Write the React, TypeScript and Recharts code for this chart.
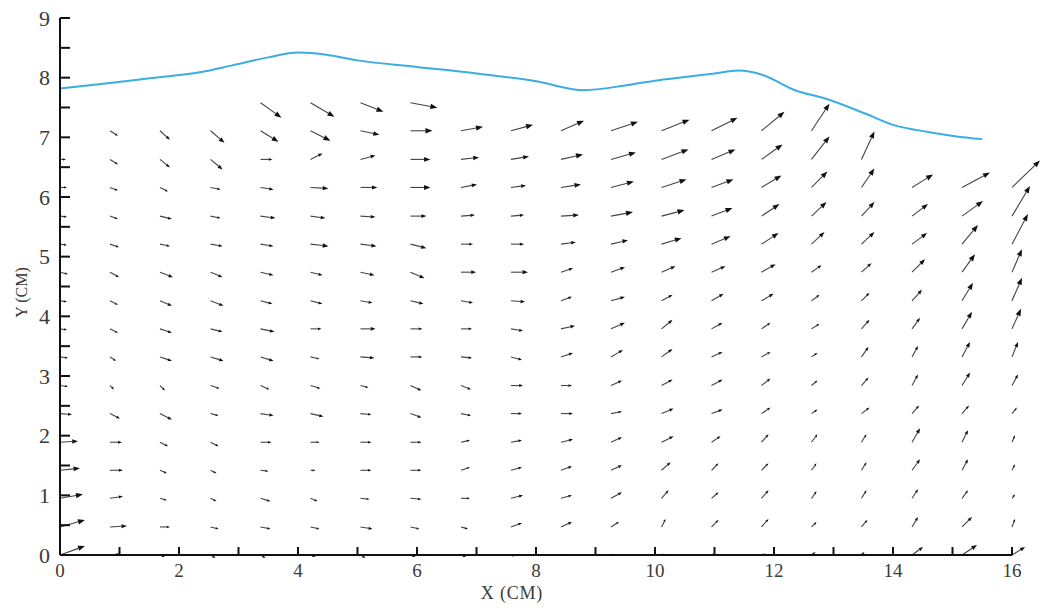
import { ComposedChart, Label, Line, ReferenceLine, XAxis, YAxis } from "recharts"

// grid of arrow tails (cm)
const X_GRID = [0, 0.84, 1.68, 2.53, 3.37, 4.21, 5.05, 5.89, 6.74, 7.58, 8.42, 9.26, 10.11, 10.95, 11.79, 12.63, 13.47, 14.32, 15.16, 16]
const Y_GRID = [0, 0.47, 0.95, 1.42, 1.89, 2.37, 2.84, 3.32, 3.79, 4.26, 4.74, 5.21, 5.68, 6.16, 6.63, 7.11, 7.58]

// velocity components per row (bottom row first), null = no vector
const U: (number | null)[][] = [
  [25, 10, 5, 5, 5, 5, 5, 5, 5, 4, 5, 4, 3, 4, 5, 4, 3, 11, 15, 13],
  [25, 17, 10, 8, 10, 9, 12, 9, 7, 11, 11, 8, 4, 7, 7, 5, 6, 6, 10, 3],
  [23, 13, 7, 6, 10, 7, 9, 11, 9, 12, 11, 11, 7, 7, 7, 5, 5, 6, 6, 3],
  [20, 13, 7, 6, 8, 5, 11, 11, 9, 11, 11, 11, 9, 7, 7, 5, 5, 8, 6, 3],
  [18, 12, 8, 8, 11, 9, 11, 11, 9, 11, 12, 11, 12, 9, 7, 6, 5, 8, 6, 3],
  [12, 10, 12, 8, 13, 13, 11, 11, 10, 11, 12, 11, 12, 11, 9, 6, 8, 7, 7, 5],
  [8, 4, 5, 9, 9, 10, 8, 11, 10, 12, 11, 11, 11, 11, 9, 6, 7, 6, 8, 6],
  [8, 6, 12, 13, 13, 9, 14, 12, 11, 11, 12, 12, 11, 11, 9, 6, 7, 6, 8, 6],
  [7, 8, 12, 12, 14, 11, 15, 12, 11, 12, 14, 14, 11, 11, 9, 8, 8, 8, 10, 9],
  [7, 8, 12, 13, 12, 12, 12, 13, 12, 14, 11, 14, 11, 12, 12, 8, 8, 10, 11, 10],
  [8, 9, 13, 12, 13, 12, 14, 14, 15, 17, 12, 14, 14, 14, 14, 10, 10, 13, 13, 10],
  [7, 9, 10, 12, 13, 18, 16, 16, 12, 13, 15, 17, 20, 19, 17, 13, 13, 15, 16, 16],
  [7, 8, 12, 10, 15, 15, 15, 16, 14, 13, 18, 22, 23, 21, 18, 15, 13, 16, 21, 18],
  [7, 8, 8, 10, 13, 18, 17, 20, 16, 15, 20, 23, 25, 22, 20, 16, 13, 21, 28, 28],
  [6, 8, 10, 12, 12, 12, 15, 20, 18, 18, 22, 25, 27, 24, 21, 18, 13, null, null, null],
  [null, 8, 10, 14, 18, 20, 19, 22, 22, 22, 23, 27, 28, 26, 23, 18, null, null, null, null],
  [null, null, null, null, 21, 24, 23, 27, null, null, null, null, null, null, null, null, null, null, null, null],
]
const V: (number | null)[][] = [
  [9, 1, -2, -3, -3, -2, -3, -2, -2, -1, 0, 0, 1, 1, 1, 3, 3, 8, 10, 8],
  [7, 1, 0, -2, -2, -2, -2, -2, -2, 4, 5, 5, 8, 7, 8, 5, 7, 10, 10, 8],
  [4, 2, -2, -3, -3, -3, -1, -1, 0, 3, 3, 6, 8, 6, 8, 7, 8, 9, 8, 4],
  [2, 0, -3, -3, -1, 0, 0, 0, 3, 3, 4, 5, 8, 7, 7, 7, 8, 11, 11, 6],
  [1, 0, -4, -4, 0, 0, 0, 0, 2, 2, 3, 5, 6, 6, 8, 8, 8, 14, 12, 7],
  [-1, -5, -6, -2, -2, -3, -1, -4, -2, 0, 0, 2, 5, 4, 6, 4, 6, 8, 8, 6],
  [-1, -4, -5, -3, -4, -3, -2, -5, -4, 0, 0, 5, 6, 6, 7, 5, 8, 11, 13, 11],
  [-1, -4, -4, -4, -4, -2, -1, 0, -1, -3, 4, 7, 8, 5, 5, 4, 10, 11, 15, 15],
  [-1, -4, -4, -3, -3, 0, 0, 0, 0, -2, 3, 6, 9, 6, 6, 5, 9, 11, 17, 20],
  [-1, -4, -5, -5, -3, -3, -2, -3, -2, -1, 4, 4, 6, 7, 7, 6, 8, 11, 18, 23],
  [-2, -5, -5, -5, -3, -3, -3, -6, 0, 0, 4, 5, 6, 6, 8, 7, 9, 13, 18, 23],
  [-1, -3, -2, -2, -2, -2, -2, -4, 0, 0, 2, 4, 6, 8, 11, 12, 12, 11, 19, 30],
  [-1, -3, -3, -2, -2, -2, -1, 0, 1, 1, 1, 4, 6, 8, 12, 14, 14, 12, 15, 30],
  [0, -3, -4, -2, -2, -1, 0, 0, 3, 2, 3, 6, 8, 8, 12, 16, 19, 13, 15, 27],
  [0, -5, -8, -10, 0, 6, 4, 0, 2, 3, 5, 7, 10, 10, 15, 23, 28, null, null, null],
  [null, -5, -9, -12, -11, -10, -4, 0, 4, 6, 10, 9, 11, 13, 19, 27, null, null, null, null],
  [null, null, null, null, -15, -14, -9, -5, null, null, null, null, null, null, null, null, null, null, null, null],
]
const VEL_SCALE = 1 / 59.6 // cm of arrow per velocity unit

// free surface
const SURFACE_X = [0, 0.84, 1.51, 2.35, 2.91, 3.5, 4.0, 4.5, 5.0, 6.0, 7.0, 8.0, 8.8, 9.5, 10.0, 10.5, 11.0, 11.4, 11.8, 12.35, 12.86, 13.53, 14.03, 14.59, 15.04, 15.5]
const SURFACE_Y = [7.82, 7.91, 7.99, 8.09, 8.21, 8.34, 8.42, 8.38, 8.29, 8.18, 8.07, 7.94, 7.79, 7.87, 7.95, 8.01, 8.07, 8.12, 8.05, 7.79, 7.65, 7.4, 7.2, 7.09, 7.02, 6.97]

const X_TICKS = [0, 1, 2, 3, 4, 5, 6, 7, 8, 9, 10, 11, 12, 13, 14, 15, 16]
const Y_TICKS = [0, 0.5, 1, 1.5, 2, 2.5, 3, 3.5, 4, 4.5, 5, 5.5, 6, 6.5, 7, 7.5, 8, 8.5, 9]

const SERIF = '"Liberation Serif", "DejaVu Serif", serif'

const surface = SURFACE_X.map((x, i) => ({ x, y: SURFACE_Y[i] }))

const arrows: { key: string; x0: number; y0: number; x1: number; y1: number }[] = []
Y_GRID.forEach((y, j) => {
  X_GRID.forEach((x, i) => {
    const u = U[j][i]
    const v = V[j][i]
    if (u == null || v == null) return
    arrows.push({ key: `${i}-${j}`, x0: x, y0: y, x1: x + u * VEL_SCALE, y1: y + v * VEL_SCALE })
  })
})

function Arrow(props: any) {
  const { x1, y1, x2, y2 } = props
  if (![x1, y1, x2, y2].every((n) => Number.isFinite(n))) return <g />
  const dx = x2 - x1
  const dy = y2 - y1
  const len = Math.hypot(dx, dy)
  if (len < 0.5) return <g />
  const ux = dx / len
  const uy = dy / len
  const head = Math.min(7, Math.max(3, len * 0.32))
  const half = head * 0.38
  const bx = x2 - ux * head
  const by = y2 - uy * head
  return (
    <g>
      <line x1={x1} y1={y1} x2={bx} y2={by} stroke="#444" strokeWidth={1.1} />
      <polygon
        points={`${x2},${y2} ${bx - uy * half},${by + ux * half} ${bx + uy * half},${by - ux * half}`}
        fill="#111"
      />
    </g>
  )
}

export default function App() {
  return (
    <div style={{ position: "absolute", left: 0, top: 0, width: 1045, height: 611, background: "#fff" }}>
      <ComposedChart width={1045} height={611} data={surface} margin={{ top: 18, right: 33, left: 0, bottom: 0 }}>
        <XAxis
          type="number"
          dataKey="x"
          domain={[0, 16]}
          ticks={X_TICKS}
          interval={0}
          allowDataOverflow
          height={56}
          tickSize={-8}
          tickMargin={17}
          axisLine={{ stroke: "#111", strokeWidth: 2 }}
          tickLine={{ stroke: "#111", strokeWidth: 2 }}
          tick={{ fill: "#3a3a3a", fontSize: 19, fontFamily: SERIF }}
          tickFormatter={(v: number) => (v % 2 === 0 ? String(v) : "")}
        >
          <Label
            content={({ viewBox }: any) => (
              <text
                x={viewBox.x + viewBox.width / 2 - 24}
                y={viewBox.y + 44}
                textAnchor="middle"
                fill="#3a3a3a"
                fontSize={18}
                fontFamily={SERIF}
                letterSpacing={0.8}
              >
                X (CM)
              </text>
            )}
          />
        </XAxis>
        <YAxis
          type="number"
          domain={[0, 9]}
          ticks={Y_TICKS}
          interval={0}
          allowDataOverflow
          width={60}
          tickSize={-10}
          tickMargin={20}
          axisLine={{ stroke: "#111", strokeWidth: 2 }}
          tickLine={{ stroke: "#111", strokeWidth: 2 }}
          tick={{ fill: "#3a3a3a", fontSize: 22, fontFamily: SERIF }}
          tickFormatter={(v: number) => (Number.isInteger(v) ? String(v) : "")}
        >
          <Label
            content={({ viewBox }: any) => {
              const cx = 27
              const cy = viewBox.y + viewBox.height / 2 + 6
              return (
                <text
                  x={cx}
                  y={cy}
                  transform={`rotate(-90 ${cx} ${cy})`}
                  textAnchor="middle"
                  fill="#3a3a3a"
                  fontSize={16}
                  fontFamily={SERIF}
                >
                  Y (CM)
                </text>
              )
            }}
          />
        </YAxis>
        {arrows.map((a) => (
          <ReferenceLine
            key={a.key}
            segment={[{ x: a.x0, y: a.y0 }, { x: a.x1, y: a.y1 }]}
            ifOverflow="visible"
            shape={Arrow}
          />
        ))}
        <Line
          type="monotone"
          dataKey="y"
          stroke="#3aaee0"
          strokeWidth={2}
          dot={false}
          activeDot={false}
          isAnimationActive={false}
        />
      </ComposedChart>
    </div>
  )
}
